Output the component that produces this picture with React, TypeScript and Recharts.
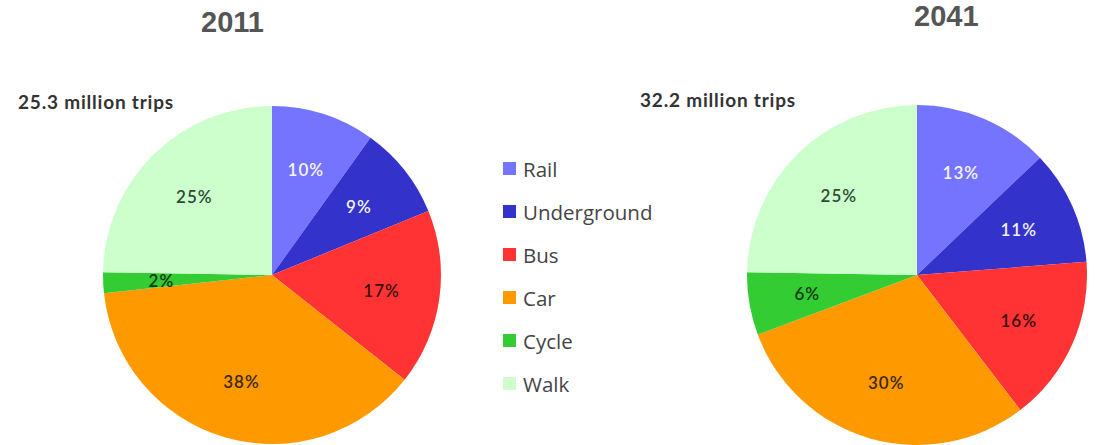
import React from "react";
import { PieChart, Pie, Cell } from "recharts";

const categories = ["Rail", "Underground", "Bus", "Car", "Cycle", "Walk"];
const share2011 = [10, 9, 17, 38, 2, 25];
const share2041 = [13, 11, 16, 30, 6, 25];
const colors = ["#7474FF", "#3333CC", "#FF3333", "#FF9900", "#33CC33", "#CCFFCC"];
const labelColors = ["#F4F4FF", "#F0F0FF", "#3A1010", "#3A2800", "#103A10", "#2E4A38"];
const titles = ["2011", "2041"];
const tripTotals = ["25.3 million trips", "32.2 million trips"];

const data2011 = categories.map((name, i) => ({ name, value: share2011[i] }));
const data2041 = categories.map((name, i) => ({ name, value: share2041[i] }));

const RAD = Math.PI / 180;

const renderLabel = (props: any) => {
  const { cx, cy, midAngle, outerRadius, value, index } = props;
  const r = outerRadius * 0.655;
  const x = cx + r * Math.cos(-midAngle * RAD);
  const y = cy + r * Math.sin(-midAngle * RAD);
  return (
    <text
      x={x}
      y={y}
      textAnchor="middle"
      dominantBaseline="central"
      fill={labelColors[index]}
      fontFamily="Lato, 'Noto Sans', sans-serif"
      fontSize={17}
      fontWeight={600}
      letterSpacing={1}
    >
      {`${value}%`}
    </text>
  );
};

const LegendBlock = () => (
  <div
    style={{
      position: "absolute",
      left: 503,
      top: 147,
      fontFamily: "'Open Sans', Lato, sans-serif",
    }}
  >
    {categories.map((c, i) => (
      <div
        key={c}
        style={{ display: "flex", alignItems: "center", height: 43, color: "#444", fontSize: 20.5 }}
      >
        <span
          style={{
            display: "inline-block",
            width: 13,
            height: 13,
            background: colors[i],
            marginRight: 7,
          }}
        />
        <span>{c}</span>
      </div>
    ))}
  </div>
);

export default function App() {
  const titleStyle: React.CSSProperties = {
    position: "absolute",
    fontFamily: "'Liberation Sans', Arial, sans-serif",
    fontWeight: 700,
    fontSize: 29,
    color: "#555",
    lineHeight: 1,
  };
  const tripStyle: React.CSSProperties = {
    position: "absolute",
    fontFamily: "Lato, 'Noto Sans', sans-serif",
    fontWeight: 700,
    fontSize: 19,
    letterSpacing: 0.8,
    color: "#333",
    lineHeight: 1,
  };
  return (
    <div style={{ position: "absolute", left: 0, top: 0, width: 1114, height: 445, background: "#fff" }}>
      <PieChart width={1114} height={445} margin={{ top: 0, right: 0, bottom: 0, left: 0 }}>
        <Pie
          data={data2011}
          dataKey="value"
          nameKey="name"
          cx={272}
          cy={275}
          outerRadius={169}
          startAngle={90}
          endAngle={-270}
          stroke="none"
          label={renderLabel}
          labelLine={false}
          isAnimationActive={false}
        >
          {data2011.map((d, i) => (
            <Cell key={d.name} fill={colors[i]} />
          ))}
        </Pie>
        <Pie
          data={data2041}
          dataKey="value"
          nameKey="name"
          cx={917}
          cy={275}
          outerRadius={170}
          startAngle={90}
          endAngle={-270}
          stroke="none"
          label={renderLabel}
          labelLine={false}
          isAnimationActive={false}
        >
          {data2041.map((d, i) => (
            <Cell key={d.name} fill={colors[i]} />
          ))}
        </Pie>
      </PieChart>
      <LegendBlock />
      <div style={{ ...titleStyle, left: 201, top: 8 }}>{titles[0]}</div>
      <div style={{ ...titleStyle, left: 914, top: 2 }}>{titles[1]}</div>
      <div style={{ ...tripStyle, left: 18, top: 92 }}>{tripTotals[0]}</div>
      <div style={{ ...tripStyle, left: 640, top: 90 }}>{tripTotals[1]}</div>
    </div>
  );
}
